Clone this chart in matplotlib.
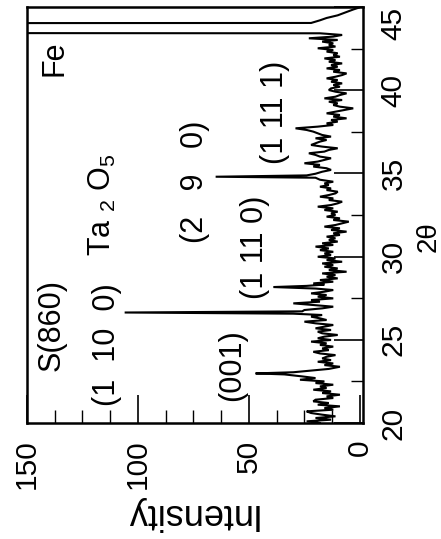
import matplotlib
matplotlib.use("Agg")
import matplotlib.pyplot as plt
from matplotlib.ticker import MultipleLocator, FixedLocator

# XRD pattern: diffraction angle (2-theta, degrees) and intensity (counts)
two_theta = [
    20.00, 20.10, 20.20, 20.30, 20.40, 20.50, 20.60, 20.70, 20.80, 20.90,
    21.00, 21.10, 21.20, 21.30, 21.40, 21.50, 21.60, 21.70, 21.80, 21.90,
    22.00, 22.10, 22.20, 22.30, 22.40, 22.50, 22.60, 22.70, 22.80,
    22.92, 22.98, 23.05,
    23.15, 23.25, 23.38, 23.48, 23.58, 23.68, 23.78, 23.88, 23.98, 24.08,
    24.18, 24.28, 24.38, 24.48, 24.59, 24.69, 24.79, 24.89, 24.99, 25.09,
    25.19, 25.29, 25.39, 25.49, 25.59, 25.69, 25.79, 25.89, 25.99, 26.09,
    26.19, 26.29, 26.39, 26.49, 26.57,
    26.64, 26.71,
    26.79, 26.89, 26.99, 27.09, 27.19, 27.29, 27.39, 27.49, 27.59, 27.69,
    27.79, 27.89, 27.99, 28.08,
    28.17, 28.24,
    28.32, 28.39, 28.49, 28.59, 28.69, 28.79, 28.89, 28.99, 29.09, 29.19,
    29.29, 29.39, 29.49, 29.59, 29.69, 29.79, 29.89, 29.99, 30.09, 30.19,
    30.29, 30.39, 30.49, 30.60, 30.70, 30.80, 30.90, 31.00, 31.10, 31.20,
    31.30, 31.40, 31.50, 31.60, 31.70, 31.80, 31.90, 32.00, 32.10, 32.20,
    32.30, 32.40, 32.50, 32.60, 32.70, 32.80, 32.90, 33.00, 33.10, 33.20,
    33.30, 33.40, 33.50, 33.60, 33.70, 33.80, 33.90, 34.00, 34.10, 34.20,
    34.30, 34.40, 34.50, 34.62,
    34.74, 34.80, 34.88,
    34.98, 35.10, 35.21, 35.31, 35.41, 35.51, 35.61, 35.71, 35.81, 35.91,
    36.01, 36.11, 36.21, 36.31, 36.41, 36.51, 36.61, 36.71, 36.81, 36.91,
    37.01, 37.11, 37.21, 37.31, 37.41, 37.51, 37.61,
    37.71,
    37.81, 37.91, 38.01, 38.11, 38.21, 38.31, 38.41, 38.51, 38.61, 38.71,
    38.81, 38.91, 39.01, 39.11, 39.21, 39.31, 39.41, 39.51, 39.61, 39.71,
    39.81, 39.91, 40.01, 40.11, 40.21, 40.31, 40.41, 40.51, 40.61, 40.71,
    40.81, 40.91, 41.01, 41.11, 41.21, 41.31, 41.41, 41.51, 41.61, 41.71,
    41.81, 41.91, 42.01, 42.11, 42.22, 42.32, 42.42, 42.52, 42.62, 42.72,
    42.82, 42.92, 43.02, 43.12, 43.22, 43.32, 43.42,
    43.45, 44.02, 44.04,
    44.20, 44.34, 44.50, 44.70, 44.85, 44.96,
]
intensity = [
    18, 24, 13, 20, 11, 17, 22, 24, 12, 16,
    9, 19, 14, 21, 20, 12, 15, 9, 17, 13,
    21, 15, 18, 12, 20, 16, 27, 20, 26,
    34, 47, 30,
    22, 14, 9, 16, 12, 19, 13, 17, 15, 11,
    18, 21, 14, 17, 12, 18, 15, 22, 13, 19,
    16, 10, 17, 19, 13, 20, 16, 12, 20, 25,
    15, 18, 22, 17, 30,
    106, 26,
    25, 17, 12, 21, 30, 18, 22, 12, 19, 15,
    22, 16, 12, 20,
    39, 24,
    16, 21, 12, 18, 10, 15, 11, 17, 6, 14,
    10, 16, 12, 17, 8, 15, 11, 19, 13, 16,
    12, 18, 14, 20, 12, 17, 10, 14, 11, 15,
    9, 12, 6, 13, 9, 16, 11, 8, 5, 12,
    9, 15, 11, 13, 10, 16, 12, 19, 13, 10,
    8, 14, 12, 18, 14, 11, 10, 15, 13, 18,
    14, 16, 12, 18,
    20, 65, 24,
    20, 17, 13, 15, 21, 18, 25, 19, 16, 13,
    18, 20, 23, 16, 14, 10, 17, 22, 20, 18,
    15, 20, 13, 17, 19, 21, 24,
    29,
    19, 12, 15, 10, 13, 6, 12, 9, 15, 11,
    7, 3, 9, 12, 10, 14, 8, 16, 11, 9,
    6, 11, 14, 13, 9, 12, 8, 13, 10, 15,
    11, 8, 6, 12, 9, 15, 10, 13, 8, 14,
    11, 16, 9, 12, 10, 15, 12, 19, 11, 14,
    12, 17, 10, 23, 12, 8, 18,
    400, 400, 22,
    18, 15, 10, 6, 3, 0.5,
]

# Phase / reflection labels: (text, intensity, 2-theta)
peak_labels = ["S(860)", "(1  10  0)", "Ta $_2$ O$_5$", "(2   9   0)",
               "(1 11 0)", "(001)", "(1 11 1)", "Fe"]
label_intensity = [138.7, 114.0, 115.8, 74.3, 47.3, 57.7, 38.3, 137.8]
label_angle = [25.89, 24.69, 33.1, 34.48, 30.58, 23.49, 38.69, 41.93]

intensity_ticks = [0, 50, 100, 150]
angle_ticks = [20, 25, 30, 35, 40, 45]

plt.rcParams["font.family"] = ["Liberation Sans", "DejaVu Sans"]
plt.rcParams["mathtext.fontset"] = "custom"
plt.rcParams["mathtext.rm"] = "Liberation Sans"
plt.rcParams["mathtext.it"] = "Liberation Sans"
plt.rcParams["mathtext.default"] = "regular"

fig = plt.figure(figsize=(4.41, 5.39), dpi=100)
ax = fig.add_axes([27 / 441, 116 / 539, 336 / 441, 416 / 539])

ax.plot(intensity, two_theta, color="black", lw=1.5, solid_joinstyle="miter")

ax.set_xlim(150, -1.4)
ax.set_ylim(20, 45)

for sp in ax.spines.values():
    sp.set_linewidth(1.8)

ax.xaxis.set_major_locator(FixedLocator(intensity_ticks))
ax.xaxis.set_minor_locator(MultipleLocator(12.5))
ax.yaxis.set_major_locator(FixedLocator(angle_ticks))
ax.yaxis.set_minor_locator(MultipleLocator(2.5))
ax.yaxis.tick_right()

ax.tick_params(axis="x", which="major", direction="in", length=20, width=1.2,
               pad=12, labelsize=21.5, labelrotation=90)
ax.tick_params(axis="x", which="minor", direction="in", length=9.4, width=1.0)
ax.tick_params(axis="y", which="major", direction="in", length=21, width=1.2,
               pad=12, labelsize=21.5, labelrotation=90, left=False, right=True)
ax.tick_params(axis="y", which="minor", direction="in", length=8.6, width=1.0,
               left=False, right=True)

fig.canvas.draw()
ylabels = ax.get_yticklabels()
for lab in ylabels:
    lab.set_va("center")
ylabels[-1].set_va("top")

for text, xi, yi in zip(peak_labels, label_intensity, label_angle):
    ax.text(xi, yi, text, rotation=90, ha="center", va="center", fontsize=22)

fig.text(190 / 441, 1 - 513 / 539, "Intensity", rotation=180,
         ha="center", va="center", fontsize=26)
fig.text(429 / 441, 1 - 237 / 539, "2\u03b8", rotation=90,
         ha="center", va="center", fontsize=20)

fig.savefig("out.png", dpi=100)
